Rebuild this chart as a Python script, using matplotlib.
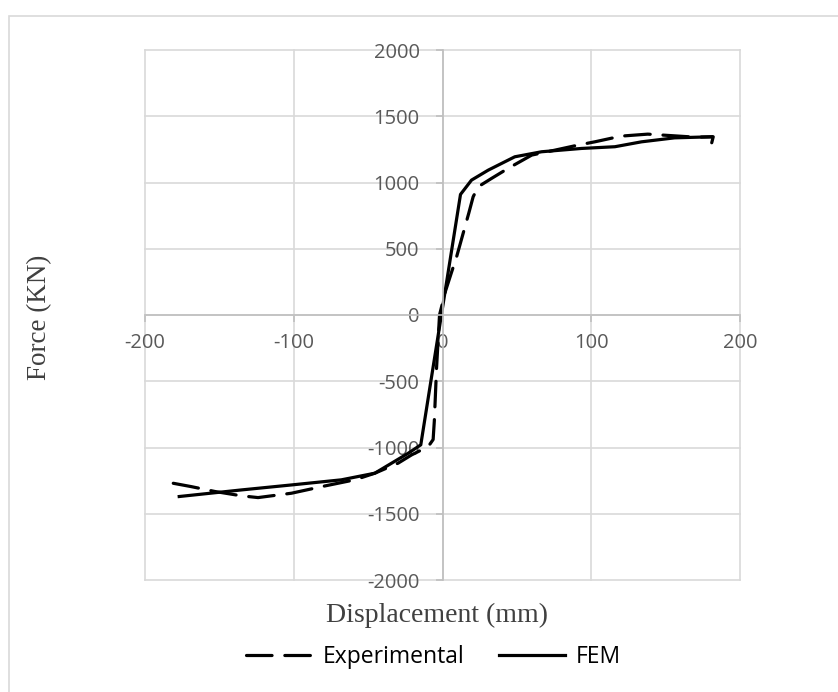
import matplotlib.pyplot as plt
from matplotlib.patches import Rectangle

plt.rcParams['axes.unicode_minus'] = False

# Experimental curve (displacement mm, force kN)
exp_disp = [-181, -169, -153, -135, -124, -101.5, -79, -59, -45.5, -29.8, -20.8,
            -9.6, -6.3, -5.5, -4, -2, 2, 6, 9.5, 17.7, 20.6, 24, 33, 44, 60,
            75.5, 91, 102.4, 120, 138, 152, 170, 182, 181]
exp_force = [-1270, -1295, -1332, -1365, -1378, -1345, -1290, -1244, -1194, -1118, -1056,
             -993, -940, -800, -400, 0, 180, 320, 440, 770, 892, 968, 1031, 1106, 1207,
             1244, 1282, 1307, 1350, 1365, 1355, 1342, 1345, 1300]

# FEM curve
fem_disp = [-177, -135, -101, -68, -45.5, -23, -14.6, 12.1, 19.5, 30.7, 48.6,
            66.6, 93.4, 115.9, 133.8, 156, 181]
fem_force = [-1370, -1320, -1282, -1244, -1194, -1043, -980, 910, 1018, 1093, 1194,
             1232, 1257, 1270, 1307, 1337, 1345]

x_ticks = [-200, -100, 0, 100, 200]
y_ticks = [-2000, -1500, -1000, -500, 0, 500, 1000, 1500, 2000]

W, H = 838, 692
fig = plt.figure(figsize=(W / 100, H / 100), dpi=100)
ax = fig.add_axes([145 / W, (H - 580) / H, (740 - 145) / W, (580 - 50) / H])

# outer chart border (only left/top visible in the crop)
fig.patches.append(Rectangle((9 / W, -0.05), 1.2, (H - 16) / H + 0.05,
                             transform=fig.transFigure, fill=False,
                             edgecolor='#d9d9d9', linewidth=1.2))

ax.plot(exp_disp, exp_force, color='black', linewidth=2.3,
        dashes=(8, 4), label='Experimental', dash_capstyle='round')
ax.plot(fem_disp, fem_force, color='black', linewidth=2.3,
        label='FEM', solid_joinstyle='round')

ax.set_xlim(-200, 200)
ax.set_ylim(-2000, 2000)
ax.set_xticks(x_ticks)
ax.set_yticks(y_ticks)

# axes crossing at the origin, Excel style
ax.spines['left'].set_position(('data', 0))
ax.spines['bottom'].set_position(('data', 0))
ax.spines['top'].set_visible(False)
ax.spines['right'].set_visible(False)
for s in ['left', 'bottom']:
    ax.spines[s].set_color('#bfbfbf')
    ax.spines[s].set_linewidth(1.2)

ax.grid(True, color='#d9d9d9', linewidth=1.2)
ax.set_axisbelow(True)
for gl in ax.get_xgridlines() + ax.get_ygridlines():
    gl.set_clip_on(False)

ax.tick_params(direction='out', length=5, color='#bfbfbf', width=1.2,
               labelsize=14.5, labelcolor='#595959')
ax.tick_params(axis='x', pad=8)
ax.tick_params(axis='y', pad=11.5)
for lab in ax.get_xticklabels() + ax.get_yticklabels():
    lab.set_family('Open Sans')

fig.text(437 / W, 1 - 615 / H, 'Displacement (mm)', ha='center', va='center',
         fontsize=20, family='Liberation Serif', color='#404040')
fig.text(40 / W, 1 - 317 / H, 'Force (KN)', ha='center', va='center',
         rotation=90, fontsize=19.5, family='Liberation Serif', color='#404040')

fig.legend(loc='center', bbox_to_anchor=(433 / W, 1 - 657 / H), ncol=2,
           frameon=False, handlelength=2.9, columnspacing=1.5, handletextpad=0.45,
           prop={'family': 'Open Sans', 'size': 16.5})

fig.savefig('out.png', dpi=100)
